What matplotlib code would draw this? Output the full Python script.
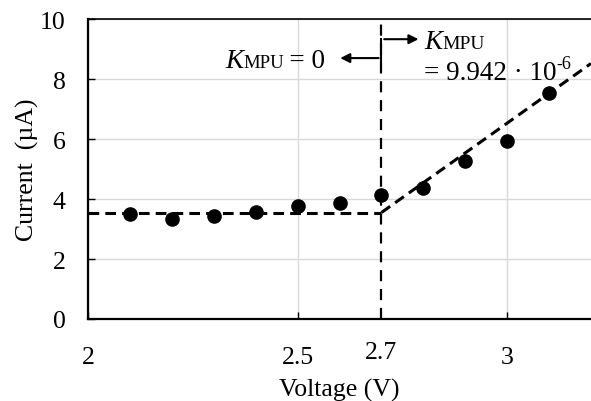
import matplotlib
matplotlib.use("Agg")
import matplotlib.pyplot as plt
from matplotlib.transforms import offset_copy, blended_transform_factory

plt.rcParams['font.family'] = ['Liberation Serif', 'DejaVu Serif']

# measured points
voltage = [2.1, 2.2, 2.3, 2.4, 2.5, 2.6, 2.7, 2.8, 2.9, 3.0, 3.1]
current = [3.51, 3.35, 3.45, 3.56, 3.78, 3.88, 4.14, 4.38, 5.28, 5.95, 7.52]

# fitted piecewise line
fit_flat_x = [2.0, 2.7]
fit_flat_y = [3.55, 3.55]
fit_slope_x = [2.7, 3.2]
fit_slope_y = [3.55, 8.52]
knee_v = 2.7

x_ticks = [2, 2.5, 3]
x_ticklabels = ['2', '2.5', '3']
y_ticks = [0, 2, 4, 6, 8, 10]

fig = plt.figure(figsize=(5.91, 4.02), dpi=100)
ax = fig.add_axes([0.149, 0.204, 0.851, 0.746])

ax.set_xlim(2, 3.2)
ax.set_ylim(0, 10)
ax.set_xticks(x_ticks)
ax.set_xticklabels(x_ticklabels)
ax.set_yticks(y_ticks)
ax.tick_params(direction='in', length=5, width=1, labelsize=18.5)
ax.tick_params(axis='x', pad=19.5)
ax.tick_params(axis='y', pad=16)
ax.grid(True, color='#d9d9d9', linewidth=1)
ax.set_axisbelow(True)

ax.spines['right'].set_visible(False)
ax.spines['top'].set_linewidth(1.2)
ax.spines['left'].set_linewidth(1.6)
ax.spines['bottom'].set_linewidth(1.6)

ax.plot(fit_flat_x, fit_flat_y, color='black', lw=2.2, ls=(0, (3.5, 2)), zorder=3)
ax.plot(fit_slope_x, fit_slope_y, color='black', lw=2.2, ls=(0, (3.5, 2)), zorder=3)
ax.axvline(knee_v, color='black', lw=1.6, ls=(0, (5, 3.5)), zorder=3)
ax.plot(voltage, current, 'o', color='black', ms=9.5, zorder=4)

# 2.7 tick label sits a bit higher than the others
trans = blended_transform_factory(ax.transData, ax.transAxes)
ax.text(knee_v, -0.073, '2.7', transform=trans, ha='center', va='top', fontsize=18.5)

ax.set_xlabel('Voltage (V)', fontsize=18.5, labelpad=7)
ax.set_ylabel('Current  (\u00b5A)', fontsize=18.5, labelpad=1)

# arrows
ax.annotate('', xy=(2.595, 8.7), xytext=(knee_v, 8.7),
            arrowprops=dict(arrowstyle='-|>', color='black', lw=1.5, mutation_scale=14))
ax.plot([knee_v, knee_v], [8.58, 8.82], color='black', lw=1.5)
ax.plot([knee_v, knee_v], [9.07, 9.33], color='black', lw=1.5)
ax.annotate('', xy=(2.795, 9.33), xytext=(knee_v, 9.33),
            arrowprops=dict(arrowstyle='-|>', color='black', lw=1.5, mutation_scale=14))

renderer = fig.canvas.get_renderer()


def put_pieces(x, y, pieces, align='left'):
    texts = []
    dx = 0.0
    for s, size, style, dy in pieces:
        t = ax.text(x, y, s, fontsize=size, style=style, va='baseline',
                    transform=offset_copy(ax.transData, fig, x=dx, y=dy, units='points'))
        w = t.get_window_extent(renderer).width * 72 / fig.dpi
        texts.append((t, dx, dy))
        dx += w
    if align == 'right':
        for t, ox, oy in texts:
            t.set_transform(offset_copy(ax.transData, fig, x=ox - dx, y=oy, units='points'))


put_pieces(2.566, 8.4, [('K', 19.5, 'italic', 0), ('MPU', 13.5, 'normal', 0),
                        ('\u2009= 0', 19.5, 'normal', 0)], align='right')
put_pieces(2.802, 9.03, [('K', 19.5, 'italic', 0), ('MPU', 14, 'normal', 0)])
put_pieces(2.802, 8.0, [('= 9.942 \u00b7 10', 19.5, 'normal', 0), ('-6', 13, 'normal', 8)])

fig.savefig('out.png', dpi=100)
